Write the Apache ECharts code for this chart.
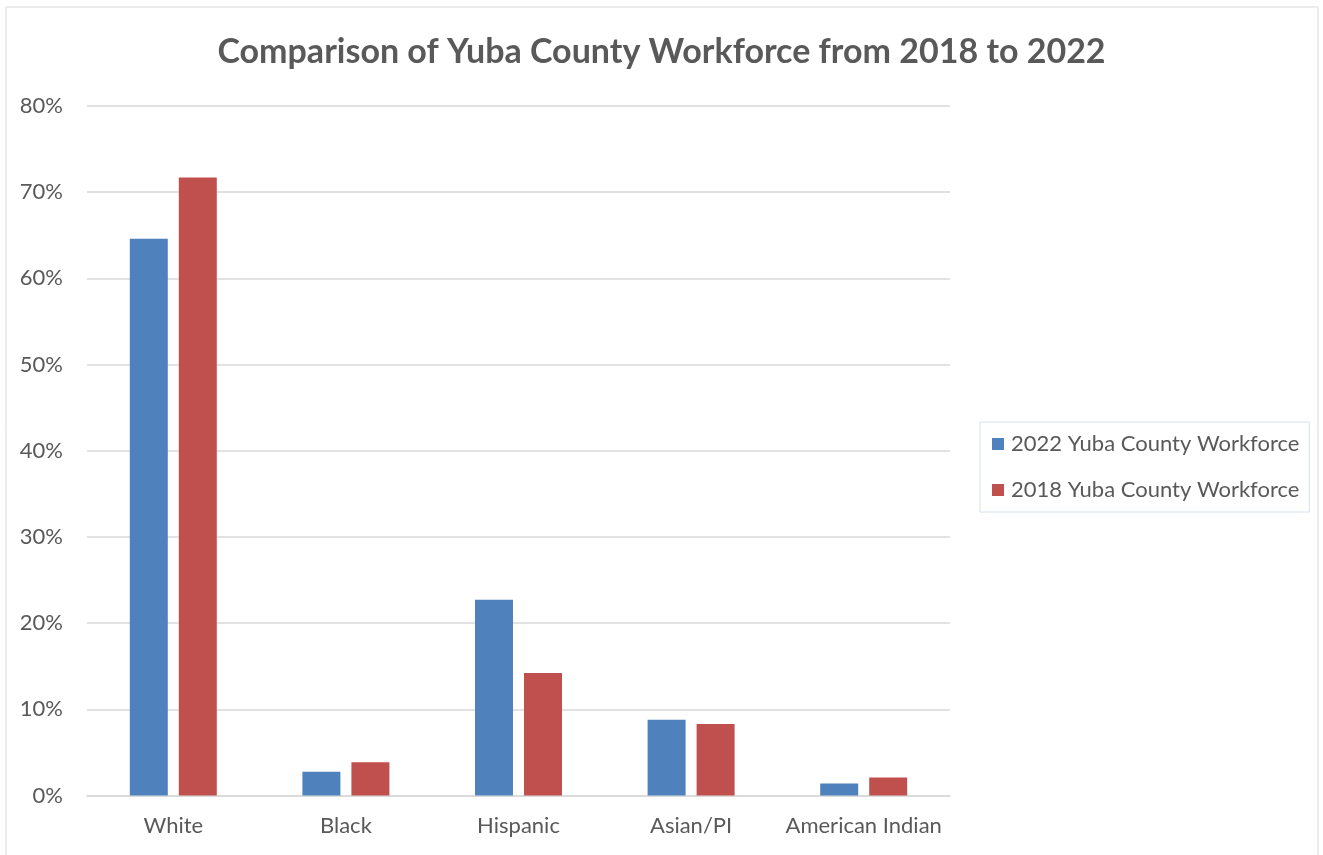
<!DOCTYPE html>
<html><head><meta charset="utf-8">
<script src="https://cdn.jsdelivr.net/npm/echarts@6/dist/echarts.min.js"></script>
<style>html,body{margin:0;padding:0;background:#fff}#c{width:1323px;height:855px}</style>
</head><body><div id="c"></div>
<script>
const categories = ["White", "Black", "Hispanic", "Asian/PI", "American Indian"];
const series2022 = [64.6, 2.75, 22.7, 8.8, 1.4];
const series2018 = [71.7, 3.85, 14.2, 8.3, 2.1];
const seriesNames = ["2022 Yuba County Workforce", "2018 Yuba County Workforce"];
const yTicks = [0, 10, 20, 30, 40, 50, 60, 70, 80];

const font = "Lato";
const chart = echarts.init(document.getElementById('c'), null, {renderer: 'canvas'});
chart.setOption({
  animation: false,
  backgroundColor: '#fff',
  graphic: [{type: 'rect', shape: {x: 6, y: 7, width: 1312, height: 860}, style: {fill: 'none', stroke: '#d9d9d9', lineWidth: 1}}],
  title: {
    text: 'Comparison of Yuba County Workforce from 2018 to 2022',
    left: 'center', top: 30,
    textStyle: {fontFamily: font, fontWeight: 'bold', fontSize: 34, color: '#595959'}
  },
  legend: {
    orient: 'vertical', left: 980, top: 422,
    padding: [11, 10, 11, 12],
    borderColor: '#d6dfee', borderWidth: 1,
    itemWidth: 12, itemHeight: 12, itemGap: 24,
    icon: 'rect',
    textStyle: {fontFamily: font, fontSize: 22, color: '#595959', padding: [0, 0, 0, 2]},
    data: seriesNames
  },
  grid: {left: 87, right: 373, top: 106, bottom: 59.5, containLabel: false},
  xAxis: {
    type: 'category', data: categories,
    axisLine: {lineStyle: {color: '#d9d9d9', width: 1.5}},
    axisTick: {show: false},
    axisLabel: {interval: 0, fontFamily: font, fontSize: 22, color: '#595959', margin: 19}
  },
  yAxis: {
    type: 'value', min: 0, max: 80, interval: 10,
    axisLine: {show: false}, axisTick: {show: false},
    splitLine: {lineStyle: {color: '#d9d9d9', width: 1.5}},
    axisLabel: {fontFamily: font, fontSize: 22, color: '#595959', margin: 24,
      formatter: v => yTicks.includes(v) ? v + '%' : ''}
  },
  series: [
    {name: seriesNames[0], type: 'bar', data: series2022, barGap: '29%', barCategoryGap: '49.6%',
      itemStyle: {color: '#4f81bd'}},
    {name: seriesNames[1], type: 'bar', data: series2018, barGap: '29%', barCategoryGap: '49.6%',
      itemStyle: {color: '#c0504d'}}
  ]
});
</script></body></html>
